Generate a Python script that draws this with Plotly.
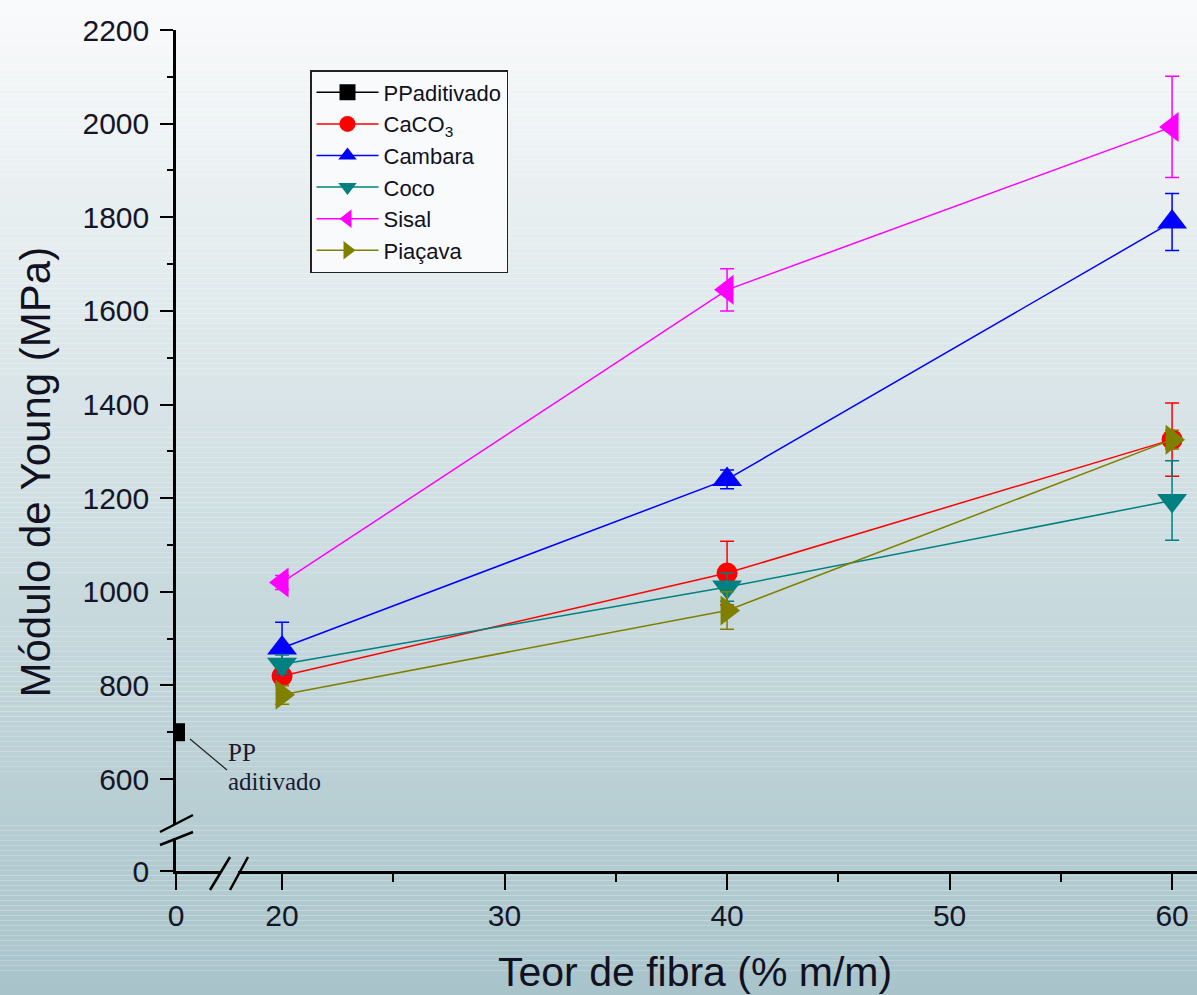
import plotly.graph_objects as go

# Fibre content (% m/m) and Young's modulus (MPa) with standard deviations
fibra = [20, 40, 60]
pp_x = [0]
pp_y = [700]
pp_err = [10]

caco3 = [820, 1040, 1325]
caco3_err = [20, 68, 78]
cambara = [880, 1240, 1790]
cambara_err = [55, 20, 61]
coco = [845, 1010, 1195]
coco_err = [20, 30, 85]
sisal = [1020, 1645, 1993]
sisal_err = [15, 45, 108]
piacava = [780, 960, 1325]
piacava_err = [20, 40, 20]

names = ["CaCO<sub>3</sub>", "Cambara", "Coco", "Sisal", "Piaçava"]
series = [caco3, cambara, coco, sisal, piacava]
errors = [caco3_err, cambara_err, coco_err, sisal_err, piacava_err]
colors = ["#ff0000", "#0000ff", "#008080", "#ff00ff", "#808000"]
symbols = ["circle", "triangle-up", "triangle-down", "triangle-left", "triangle-right"]
sizes = [21, 26, 26, 26, 26]

W, H = 1197, 995


def px(x):
    return x / W


def py(y):
    return 1 - y / H


fig = go.Figure()

# Placeholder so the lower (broken) y segment and its subplot get drawn
fig.add_trace(go.Scatter(x=[None], y=[None], xaxis="x", yaxis="y",
                         showlegend=False, hoverinfo="skip"))

# Unfilled polypropylene reference point lives on the short left x segment
fig.add_trace(go.Scatter(
    x=pp_x, y=pp_y, name="PPaditivado", mode="lines+markers",
    xaxis="x", yaxis="y2",
    line=dict(color="#000000", width=1.5),
    marker=dict(symbol="square", size=18, color="#000000"),
    error_y=dict(type="data", array=pp_err, color="#000000", thickness=1.5, width=7),
))

for name, vals, err, col, sym, sz in zip(names, series, errors, colors, symbols, sizes):
    fig.add_trace(go.Scatter(
        x=fibra, y=vals, name=name, mode="lines+markers",
        xaxis="x2", yaxis="y2",
        line=dict(color=col, width=1.5),
        marker=dict(symbol=sym, size=sz, color=col),
        error_y=dict(type="data", array=err, color=col, thickness=1.5, width=7),
    ))

# Vertical background gradient made of thin bands
top = (249, 250, 251)
bot = (168, 196, 202)
n_bands = 200
shapes = []
for i in range(n_bands):
    t = (i + 0.5) / n_bands
    c = tuple(round(a + (b - a) * t) for a, b in zip(top, bot))
    shapes.append(dict(
        type="rect", xref="paper", yref="paper", layer="below",
        x0=0, x1=1, y0=1 - i / n_bands, y1=1 - (i + 1) / n_bands,
        fillcolor="rgb(%d,%d,%d)" % c, line=dict(width=0),
    ))

# Axis break marks
brk = dict(type="line", xref="paper", yref="paper", line=dict(color="#000000", width=2.5))
for (x0, y0, x1, y1) in [(160, 832, 193, 815), (160, 845, 193, 832),
                         (210, 890, 230, 857), (230, 890, 248, 857)]:
    shapes.append(dict(brk, x0=px(x0), y0=py(y0), x1=px(x1), y1=py(y1)))

# Leader line for the PP label
shapes.append(dict(type="line", xref="paper", yref="paper",
                   x0=px(190), y0=py(739), x1=px(227), y1=py(770),
                   line=dict(color="#222222", width=1.2)))

tickfont = dict(family="Liberation Sans, Arial, sans-serif", size=30, color="#151528")
axis_common = dict(
    showline=True, linecolor="#000000", linewidth=2.5,
    ticks="outside", tickcolor="#000000", tickwidth=2.2,
    showgrid=False, zeroline=False, tickfont=tickfont, automargin=False,
)

serif = dict(family="Liberation Serif, Times New Roman, serif", size=25, color="#1a1a30")
sans_title = dict(family="Liberation Sans, Arial, sans-serif", size=41, color="#111122")

fig.update_layout(
    width=W, height=H,
    margin=dict(l=0, r=0, t=0, b=0, pad=0, autoexpand=False),
    paper_bgcolor="#ffffff",
    plot_bgcolor="rgba(0,0,0,0)",
    shapes=shapes,
    showlegend=True,
    xaxis=dict(axis_common, domain=[px(176), px(220)], range=[0, 1.98],
               anchor="y", tickvals=[0], ticklen=16, ticklabelstandoff=0),
    xaxis2=dict(axis_common, domain=[px(238), 1], range=[18.02, 61.12],
                anchor="y", tick0=0, dtick=10, ticklen=16, ticklabelstandoff=0,
                minor=dict(dtick=5, ticklen=8, tickwidth=2.2, tickcolor="#000000", ticks="outside")),
    yaxis=dict(axis_common, domain=[py(871), py(838)], range=[0, 70.5],
               anchor="x", tickvals=[0], ticklen=13, ticklabelstandoff=5),
    yaxis2=dict(axis_common, domain=[py(824), py(30)], range=[504, 2200],
                anchor="x", tick0=0, dtick=200, ticklen=13, ticklabelstandoff=5,
                minor=dict(dtick=100, ticklen=6, tickwidth=2.2, tickcolor="#000000", ticks="outside")),
    legend=dict(
        x=px(310), y=py(70), xanchor="left", yanchor="top",
        bgcolor="#f8fafb", bordercolor="#222222", borderwidth=1.5,
        font=dict(family="Liberation Sans, Arial, sans-serif", size=22, color="#111122"),
        itemwidth=62, tracegroupgap=0,
    ),
    annotations=[
        dict(text="Módulo de Young (MPa)", textangle=-90, xref="paper", yref="paper",
             x=px(9), y=py(472), showarrow=False, font=dict(sans_title, size=42)),
        dict(text="Teor de fibra (% m/m)", xref="paper", yref="paper",
             x=px(695), y=py(997), showarrow=False, font=sans_title),
        dict(text="PP", xref="paper", yref="paper",
             x=px(226), y=py(752), xanchor="left", yanchor="middle",
             showarrow=False, font=serif),
        dict(text="aditivado", xref="paper", yref="paper",
             x=px(226), y=py(781), xanchor="left", yanchor="middle",
             showarrow=False, font=serif),
    ],
)

fig.write_html("out.html", post_script="document.body.style.margin='0';")
